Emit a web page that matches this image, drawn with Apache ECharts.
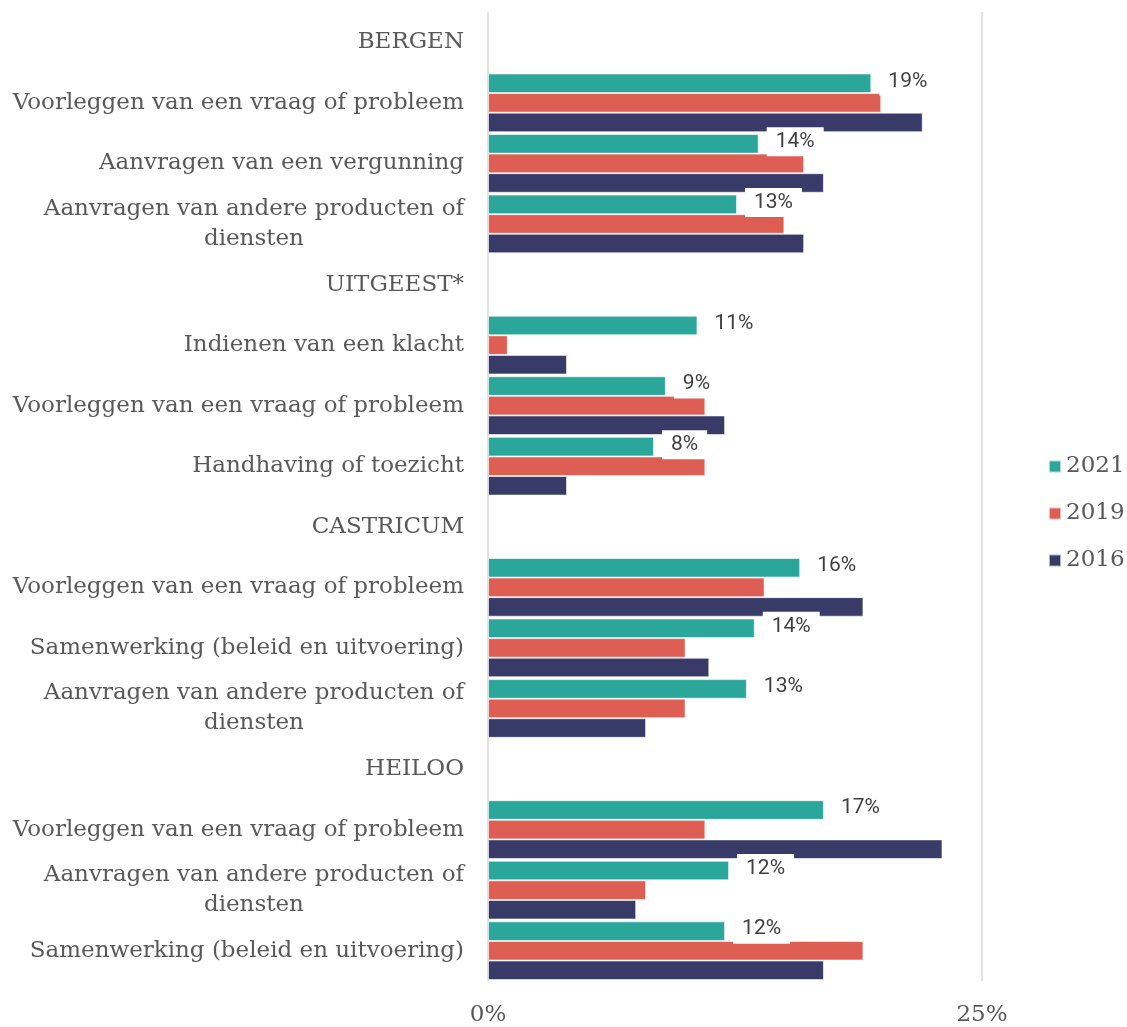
<!DOCTYPE html>
<html>
<head>
<meta charset="utf-8">
<script src="https://cdn.jsdelivr.net/npm/echarts@6/dist/echarts.min.js"></script>
<style>html,body{margin:0;padding:0;background:#fff}#c{width:1127px;height:1027px}</style>
</head>
<body>
<div id="c"></div>
<script>
const categories = [
  'BERGEN',
  'Voorleggen van een vraag of probleem',
  'Aanvragen van een vergunning',
  'Aanvragen van andere producten of\ndiensten',
  'UITGEEST*',
  'Indienen van een klacht',
  'Voorleggen van een vraag of probleem',
  'Handhaving of toezicht',
  'CASTRICUM',
  'Voorleggen van een vraag of probleem',
  'Samenwerking (beleid en uitvoering)',
  'Aanvragen van andere producten of\ndiensten',
  'HEILOO',
  'Voorleggen van een vraag of probleem',
  'Aanvragen van andere producten of\ndiensten',
  'Samenwerking (beleid en uitvoering)'
];
const seriesNames = ['2021', '2019', '2016'];
const v2021 = [null, 19.4, 13.7, 12.6, null, 10.6, 9.0, 8.4, null, 15.8, 13.5, 13.1, null, 17.0, 12.2, 12.0];
const v2019 = [null, 19.9, 16.0, 15.0, null, 1.0, 11.0, 11.0, null, 14.0, 10.0, 10.0, null, 11.0, 8.0, 19.0];
const v2016 = [null, 22.0, 17.0, 16.0, null, 4.0, 12.0, 4.0, null, 19.0, 11.2, 8.0, null, 23.0, 7.5, 17.0];
const xTicks = [0, 25];

const colors = ['#2aa69a', '#de5e53', '#383b68'];
const serif = 'DejaVu Serif';

const chart = echarts.init(document.getElementById('c'));
const barStyle = (c) => ({ color: c, borderColor: 'rgba(255,255,255,0.6)', borderWidth: 1 });

chart.setOption({
  animation: false,
  color: colors,
  grid: { left: 488, right: 145, top: 12, bottom: 44, containLabel: false },
  legend: {
    orient: 'vertical',
    left: 1043,
    top: 'middle',
    itemWidth: 12,
    itemHeight: 12,
    itemGap: 24,
    icon: 'rect',
    textStyle: { fontFamily: serif, fontSize: 23, color: '#595959' },
    data: seriesNames
  },
  xAxis: {
    type: 'value',
    min: xTicks[0],
    max: xTicks[1],
    interval: 25,
    axisLine: { show: false },
    axisTick: { show: false },
    splitLine: { show: true, lineStyle: { color: '#d9d9d9', width: 1.5 } },
    axisLabel: {
      formatter: (v) => v + '%',
      fontFamily: serif, fontSize: 23, color: '#595959', margin: 23
    }
  },
  yAxis: {
    type: 'category',
    inverse: true,
    data: categories,
    axisLine: { show: false },
    axisTick: { show: false },
    axisLabel: {
      margin: 24,
      formatter: (v) => v.split('\n').map(s => '{c|' + s + '}').join('\n'),
      rich: { c: { align: 'center', fontFamily: serif, fontSize: 23, color: '#595959', lineHeight: 30 } }
    }
  },
  series: [
    {
      name: seriesNames[0], type: 'bar', data: v2021, barGap: '0%', barCategoryGap: '3%',
      itemStyle: barStyle(colors[0]), z: 3,
      label: {
        show: true, position: 'right', distance: 8,
        formatter: (p) => Math.round(p.value) + '%',
        fontFamily: 'Roboto', fontSize: 21, color: '#404040', lineHeight: 22,
        backgroundColor: '#ffffff', padding: [7, 9, 0, 9], offset: [0, -2]
      }
    },
    { name: seriesNames[1], type: 'bar', data: v2019, barGap: '0%', barCategoryGap: '3%', itemStyle: barStyle(colors[1]) },
    { name: seriesNames[2], type: 'bar', data: v2016, barGap: '0%', barCategoryGap: '3%', itemStyle: barStyle(colors[2]) }
  ]
});
</script>
</body>
</html>
